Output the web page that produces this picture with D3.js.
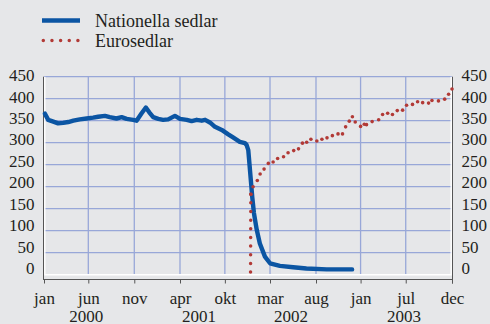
<!DOCTYPE html>
<html>
<head>
<meta charset="utf-8">
<script src="https://cdn.jsdelivr.net/npm/d3@7"></script>
<style>
  html, body { margin: 0; padding: 0; background: #e6e7e9; }
  svg { display: block; }
  text { font-family: "Liberation Serif", "DejaVu Serif", serif; fill: #231f20; }
</style>
</head>
<body>
<svg id="chart" width="490" height="324"></svg>
<script>
// Banknotes in circulation, weekly readings
const nationalDates = ["2000-01-06","2000-01-18","2000-02-05","2000-02-22","2000-03-11","2000-03-29","2000-04-16","2000-05-09","2000-06-02","2000-06-25",
  "2000-07-13","2000-08-06","2000-08-23","2000-09-16","2000-10-04","2000-10-22","2000-11-14","2000-11-26","2000-12-14","2000-12-29",
  "2001-01-10","2001-01-24","2001-02-11","2001-02-28","2001-03-18","2001-04-11","2001-04-29","2001-05-23","2001-06-09","2001-06-27",
  "2001-07-15","2001-07-27","2001-08-13","2001-08-31","2001-09-24","2001-10-17","2001-11-03","2001-11-27","2001-12-15","2001-12-21",
  "2001-12-27","2001-12-31","2002-01-05","2002-01-10","2002-01-16","2002-01-26","2002-02-06","2002-02-24","2002-03-14","2002-04-18",
  "2002-06-04","2002-07-21","2002-10-01","2002-12-30"];
const nationalValues = [366,352,348,344,345,347,350,353,355,357,
  359,361,358,355,358,354,352,350,367,380,
  369,358,354,352,353,361,354,352,349,352,
  350,352,346,336,329,319,312,302,299,295,
  283,253,215,177,140,102,71,41,26,20,
  17,14,12,12];

const euroDates = ["2002-01-04","2002-01-05","2002-01-13","2002-01-28","2002-02-07","2002-02-21","2002-03-08","2002-03-25","2002-04-10","2002-05-01",
  "2002-05-17","2002-06-06","2002-06-23","2002-07-07","2002-07-22","2002-08-06","2002-08-27","2002-09-14","2002-10-02","2002-10-21",
  "2002-11-10","2002-11-26","2002-12-07","2002-12-20","2002-12-31","2003-01-10","2003-01-29","2003-02-11","2003-02-19","2003-03-11",
  "2003-04-03","2003-04-17","2003-05-05","2003-05-22","2003-06-08","2003-06-27","2003-07-11","2003-08-01","2003-08-19","2003-09-06",
  "2003-09-27","2003-10-09","2003-11-01","2003-11-23","2003-12-07","2003-12-19"];
const euroValues = [0,183,200,214,229,240,253,256,264,268,
  277,282,286,299,301,308,304,308,311,316,
  320,320,336,349,359,347,337,342,341,348,
  352,364,367,364,373,374,385,387,393,391,
  390,396,395,399,410,422];

const seriesNames = ["Nationella sedlar", "Eurosedlar"];
const monthTickDates = ["2000-01-03","2000-06-08","2000-11-18","2001-04-29","2001-10-05","2002-03-14","2002-08-24","2003-01-29","2003-07-08","2003-12-19"];
const monthTickLabels = ["jan","jun","nov","apr","okt","mar","aug","jan","jul","dec"];
const yearLabelDates = ["2000-06-01","2001-07-05","2002-05-27","2003-07-02"];
const yearLabels = ["2000","2001","2002","2003"];
const yTickValues = [0,50,100,150,200,250,300,350,400,450];

const parse = d3.timeParse("%Y-%m-%d");
const national = nationalDates.map((d, i) => ({ date: parse(d), value: nationalValues[i] }));
const euro = euroDates.map((d, i) => ({ date: parse(d), value: euroValues[i] }));

const BLUE = "#0b55a3", RED = "#b23a36", GRID = "#98a7d8", AXIS = "#555";

const svg = d3.select("#chart");
const left = 44, right = 452;
const x = d3.scaleTime().domain([parse("2000-01-03"), parse("2003-12-19")]).range([left, right]);
const y = d3.scaleLinear().domain([0, 450]).range([274.7, 76.7]);
// value labels sit on their own slightly tighter scale
const yLabel = d3.scaleLinear().domain([0, 450]).range([268, 75.3]);

// gridlines
const grid = svg.append("g");
grid.selectAll("line.h").data(yTickValues.filter(v => v > 0)).join("line")
  .attr("x1", left).attr("x2", right)
  .attr("y1", d => y(d)).attr("y2", d => y(d))
  .attr("stroke", GRID).attr("stroke-width", 1.3);
grid.selectAll("line.v").data(monthTickDates.slice(1, -1)).join("line")
  .attr("x1", d => x(parse(d))).attr("x2", d => x(parse(d)))
  .attr("y1", y(0)).attr("y2", y(450))
  .attr("stroke", GRID).attr("stroke-width", 1.3);

// plot frame: light inner edge, dark outer rule
svg.append("path")
  .attr("d", `M${left + 0.8},${y(450)}V${y(0)}H${right - 0.8}V${y(450)}`)
  .attr("fill", "none").attr("stroke", "#fff").attr("stroke-width", 1.4);
svg.append("line").attr("x1", left - 0.5).attr("x2", left - 0.5)
  .attr("y1", y(450)).attr("y2", 280).attr("stroke", AXIS).attr("stroke-width", 1);
svg.append("line").attr("x1", right + 0.5).attr("x2", right + 0.5)
  .attr("y1", y(450)).attr("y2", 283.5).attr("stroke", AXIS).attr("stroke-width", 1);

// time axis under the plot
const xAxis = d3.axisBottom(x)
  .tickValues(monthTickDates.map(parse))
  .tickSize(4).tickPadding(0)
  .tickFormat((d, i) => monthTickLabels[i]);
const gx = svg.append("g").attr("transform", "translate(0,279.5)").call(xAxis);
gx.select(".domain").attr("stroke", AXIS).attr("d", `M${left},0H${right}`);
gx.selectAll(".tick line").attr("stroke", AXIS);
gx.selectAll(".tick text").attr("y", 24).attr("dy", 0)
  .style("font-size", "17px").style("font-family", "'Liberation Serif', serif").attr("fill", "#231f20");

svg.append("g").selectAll("text").data(yearLabelDates).join("text")
  .attr("x", d => x(parse(d))).attr("y", 321.5)
  .attr("text-anchor", "middle").style("font-size", "17px")
  .text((d, i) => yearLabels[i]);

// value labels on both sides
const yAxisL = d3.axisLeft(yLabel).tickValues(yTickValues).tickSize(0).tickPadding(0);
const gyl = svg.append("g").attr("transform", "translate(34.5,0)").call(yAxisL);
const yAxisR = d3.axisRight(yLabel).tickValues(yTickValues).tickSize(0).tickPadding(0);
const gyr = svg.append("g").attr("transform", "translate(461.5,0)").call(yAxisR);
[gyl, gyr].forEach(g => {
  g.select(".domain").remove();
  g.selectAll(".tick text").style("font-size", "17px")
    .style("font-family", "'Liberation Serif', serif").attr("fill", "#231f20");
});

// national notes
const line = d3.line().x(d => x(d.date)).y(d => y(d.value));
svg.append("path").datum(national)
  .attr("d", line).attr("fill", "none")
  .attr("stroke", BLUE).attr("stroke-width", 4.4)
  .attr("stroke-linejoin", "round").attr("stroke-linecap", "round");

// euro notes: dotted rise on the launch day, then one dot per reading
svg.append("path").datum([euro[1], euro[0]])
  .attr("d", line).attr("fill", "none")
  .attr("stroke", RED).attr("stroke-width", 3.5)
  .attr("stroke-linecap", "round").attr("stroke-dasharray", "0 8.65");
svg.append("g").selectAll("circle").data(euro.slice(1)).join("circle")
  .attr("cx", d => x(d.date)).attr("cy", d => y(d.value))
  .attr("r", 1.8).attr("fill", RED);

// legend
const legend = svg.append("g");
legend.append("line").attr("x1", 42).attr("x2", 80).attr("y1", 20.5).attr("y2", 20.5)
  .attr("stroke", BLUE).attr("stroke-width", 4.4);
legend.append("line").attr("x1", 43.3).attr("x2", 80).attr("y1", 40.5).attr("y2", 40.5)
  .attr("stroke", RED).attr("stroke-width", 3.5)
  .attr("stroke-linecap", "round").attr("stroke-dasharray", "0 8.65");
legend.selectAll("text").data(seriesNames).join("text")
  .attr("x", 95).attr("y", (d, i) => 26.5 + i * 20.5)
  .style("font-size", "18px").text(d => d);
</script>
</body>
</html>
